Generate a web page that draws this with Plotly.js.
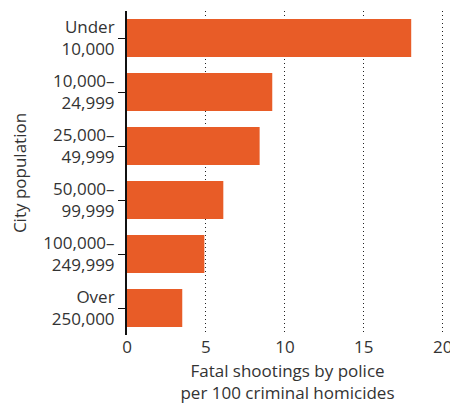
<!DOCTYPE html>
<html>
<head>
<meta charset="utf-8">
<script src="https://cdn.plot.ly/plotly-3.0.1.min.js"></script>
<style>html,body{margin:0;padding:0;background:#fff;}#chart{width:450px;height:404px;}</style>
</head>
<body>
<div id="chart"></div>
<script>
const categories = ["Under<br>10,000", "10,000–<br>24,999", "25,000–<br>49,999", "50,000–<br>99,999", "100,000–<br>249,999", "Over<br>250,000"];
const values = [18.0, 9.2, 8.4, 6.1, 4.9, 3.5];
const xTicks = [0, 5, 10, 15, 20];

const fontFam = "'Open Sans', sans-serif";
const data = [{
  type: 'bar',
  orientation: 'h',
  y: categories,
  x: values,
  marker: {color: '#E85C27'},
  width: 0.7,
  hoverinfo: 'none'
}];
const layout = {
  width: 450, height: 404,
  margin: {l: 127, r: 2, t: 11, b: 69},
  paper_bgcolor: '#fff', plot_bgcolor: '#fff',
  font: {family: fontFam, size: 17, color: '#333'},
  showlegend: false,
  bargap: 0.3,
  xaxis: {
    range: [0, 20.33],
    tickvals: xTicks,
    ticktext: xTicks.map(String),
    ticklabeloverflow: 'allow',
    showgrid: true, gridcolor: '#222', griddash: '1px,3px', gridwidth: 1,
    zeroline: false, showline: false, ticks: '',
    automargin: false,
    title: {text: 'Fatal shootings by police<br>per 100 criminal homicides', font: {size: 17}, standoff: 16}
  },
  yaxis: {
    autorange: 'reversed',
    showline: true, linecolor: '#111', linewidth: 2,
    ticks: 'outside', ticklen: 7, tickcolor: '#111', tickwidth: 1,
    showgrid: false, zeroline: false,
    automargin: false,
    title: {text: 'City population', font: {size: 17}, standoff: 12}
  }
};
Plotly.newPlot('chart', data, layout, {staticPlot: true, displayModeBar: false});
</script>
</body>
</html>
